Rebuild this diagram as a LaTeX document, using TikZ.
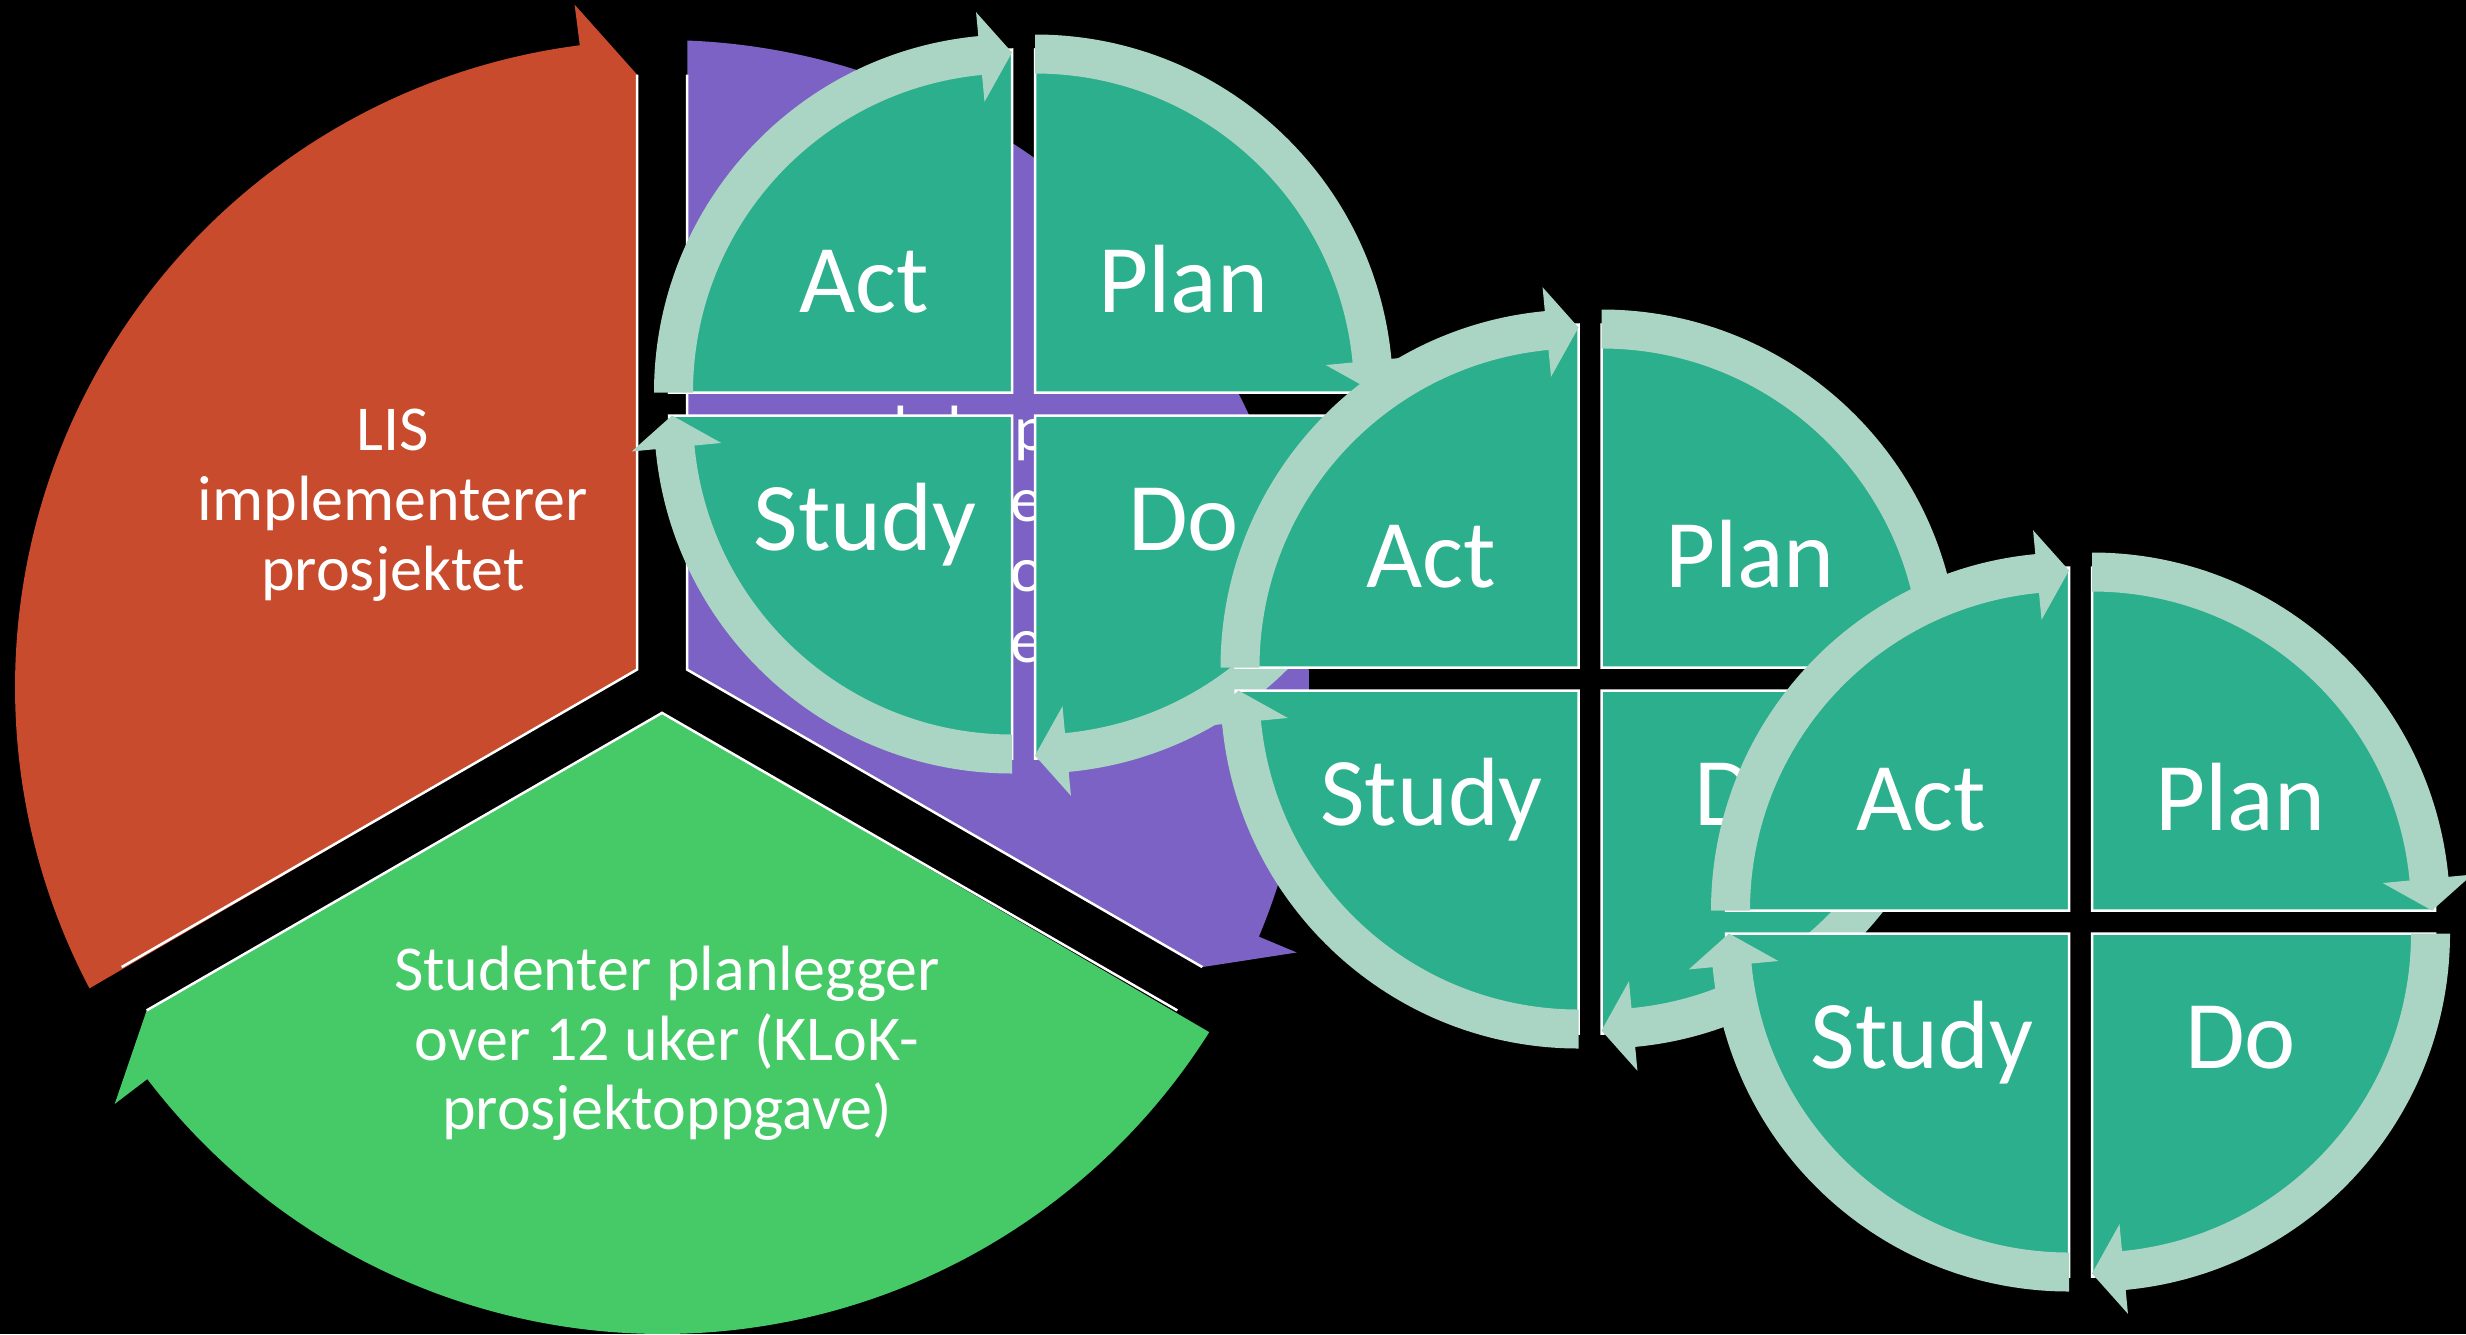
\documentclass[tikz,border=0pt]{standalone}
\usepackage{fontspec}
\setmainfont{Carlito}
\usetikzlibrary{calc}
\definecolor{segred}{HTML}{C84B2D}
\definecolor{seggreen}{HTML}{46C967}
\definecolor{segpurple}{HTML}{7D62C5}
\definecolor{quadteal}{HTML}{2BAF8C}
\definecolor{bandmint}{HTML}{AAD4C4}
\tikzset{
  edgeline/.style={draw=white, line width=2.5pt},
  quadshape/.style={fill=quadteal, draw=white, line width=2.5pt},
  bandshape/.style={fill=bandmint},
  bigtxt/.style={text=white, font=\fontsize{64}{70}\selectfont, anchor=base, inner sep=0pt},
  pdcatxt/.style={text=white, font=\fontsize{97}{110}\selectfont, anchor=base, inner sep=0pt},
}
% #1 colour, #2 start angle, #3 end angle, #4 mid angle
\newcommand\cycseg[4]{%
  \fill[#1] ($(C)+(#4:28.87pt)$) -- ($(Ca)+(#2-2.24:647pt)$)
     arc[start angle=#2-2.24, end angle=#3+7.3, radius=647pt]
     -- ($(Ca)+(#3+7.3:688pt)$) -- ($(C)+(#3+2.35:610pt)$) -- cycle;
  \draw[edgeline] ($(C)+(#2-2.35:610pt)$) -- ($(C)+(#4:28.87pt)$) -- ($(C)+(#3+2.35:610pt)$);
}
\newcommand\pdcaquad[2]{%
  \draw[quadshape] (#1) -- ++(#2:343pt) arc[start angle=#2, end angle=#2-90, radius=343pt] -- cycle;
}
\newcommand\pdcaband[2]{%
  \fill[bandshape] ($(#1)+(#2:358pt)$) arc[start angle=#2, end angle=#2-84.6, radius=358pt]
     -- ($(#1)+(#2-84.6:382pt)$) -- ($(#1)+(#2-90:340pt)$) -- ($(#1)+(#2-84.6:292pt)$)
     -- ($(#1)+(#2-84.6:319pt)$) arc[start angle=#2-84.6, end angle=#2, radius=319pt] -- cycle;
}
\newcommand\pdcacycle[3]{%
  \coordinate (#1c) at (#2,#3);
  \coordinate (#1A) at ($(#1c)+(-11.5,11.5)$);
  \coordinate (#1P) at ($(#1c)+(11.5,11.5)$);
  \coordinate (#1D) at ($(#1c)+(11.5,-11.5)$);
  \coordinate (#1S) at ($(#1c)+(-11.5,-11.5)$);
  \pdcaquad{#1A}{180}
  \pdcaquad{#1P}{90}
  \pdcaquad{#1D}{0}
  \pdcaquad{#1S}{-90}
  \node[pdcatxt] (#1act) at ($(#1c)+(-159,91.5)$) {Act};
  \node[pdcatxt] (#1plan) at ($(#1c)+(160,91.5)$) {Plan};
  \node[pdcatxt] (#1study) at ($(#1c)+(-158.5,-146)$) {Study};
  \node[pdcatxt] (#1do) at ($(#1c)+(160,-146)$) {Do};
  \pdcaband{#1A}{180}
  \pdcaband{#1P}{90}
  \pdcaband{#1D}{0}
  \pdcaband{#1S}{-90}
}
\begin{document}
\begin{tikzpicture}[x=1pt,y=1pt]
\useasboundingbox (0,0) rectangle (2466,-1334);
\fill[black] (0,0) rectangle (2466,-1334);
\coordinate (C) at (662,-684);
\coordinate (Ca) at (662,-687);
% cycle segments
\cycseg{segred}{210}{90}{150}
\cycseg{seggreen}{330}{210}{270}
\cycseg{segpurple}{90}{-30}{30}
% segment texts
\node[bigtxt] (r1) at (393,-450) {LIS};
\node[bigtxt] (r2) at (393,-520) {implementerer};
\node[bigtxt] (r3) at (393,-590) {prosjektet};
\node[bigtxt] (g1) at (667,-990) {Studenter planlegger};
\node[bigtxt] (g2) at (667,-1060) {over 12 uker (KLoK-};
\node[bigtxt] (g3) at (667,-1129) {prosjektoppgave)};
% fragments of the purple text
\node[bigtxt, anchor=base west] (pl1) at (893.5,-450) {l};
\node[bigtxt, anchor=base west] (pl2) at (947.5,-450) {l};
\node[bigtxt, anchor=base west] (pp) at (1014.5,-450) {p};
\node[bigtxt, anchor=base west] (pe1) at (1010,-521) {e};
\node[bigtxt, anchor=base west] (po) at (1010,-591) {o};
\node[bigtxt, anchor=base west] (pe2) at (1010,-662) {e};
% PDCA cycles
\pdcacycle{one}{1023.5}{-404}
\pdcacycle{two}{1590}{-679}
\pdcacycle{three}{2080.5}{-922}
\end{tikzpicture}
\end{document}
